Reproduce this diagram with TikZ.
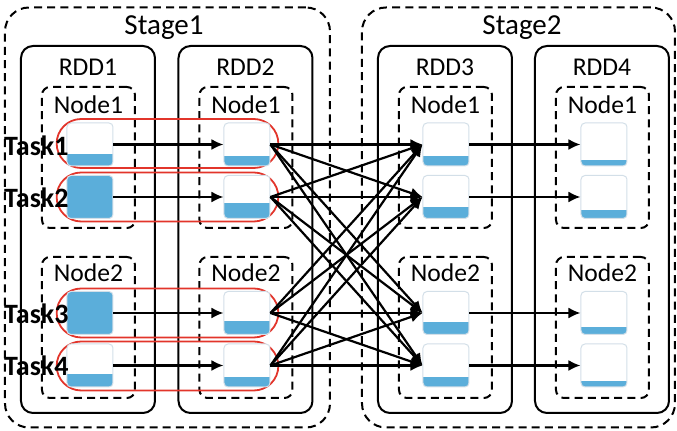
\documentclass[tikz,border=0pt]{standalone}
\usepackage{fontspec}
\setmainfont{Carlito}
\usetikzlibrary{arrows.meta, shapes.misc}
\definecolor{partblue}{HTML}{5BAEDA}
\definecolor{partedge}{HTML}{D3DFE8}
\definecolor{taskred}{HTML}{E2352B}
\tikzset{ stage/.style = { draw
                         , line width     = 1pt
                         , rounded corners = 12pt
                         , dash pattern   = on 4pt off 2.6pt
                         , minimum width  = 160pt
                         , minimum height = 210pt
                         },
          rdd/.style   = { draw
                         , line width     = 1pt
                         , rounded corners = 6pt
                         , minimum width  = 67pt
                         , minimum height = 183.5pt
                         },
          host/.style  = { draw
                         , line width     = 1pt
                         , rounded corners = 4pt
                         , dash pattern   = on 4pt off 2.6pt
                         , minimum width  = 46.5pt
                         , minimum height = 70.5pt
                         },
          part/.style  = { draw = partedge
                         , fill = white
                         , line width     = 0.5pt
                         , rounded corners = 2pt
                         , minimum width  = 23pt
                         , minimum height = 21.5pt
                         , inner sep      = 0pt
                         , path picture   = { \fill[partblue, sharp corners]
                             ([yshift=-2pt]path picture bounding box.south west) rectangle
                             ([yshift=#1]path picture bounding box.south east); }
                         },
          pill/.style  = { draw = taskred
                         , rounded rectangle
                         , line width     = 0.9pt
                         , minimum width  = 117.5pt
                         , minimum height = 24.5pt
                         },
          flow/.style  = { line width = 1.1pt
                         , -{Latex[length=6pt, width=5.5pt]}
                         },
          title/.style = { font = \fontsize{14.5}{16}\selectfont },
          lbl/.style   = { font = \fontsize{12.8}{14}\selectfont },
          task/.style  = { font = \fontsize{14}{16}\selectfont\bfseries
                         , inner sep = 0pt
                         }
        }
\begin{document}
\begin{tikzpicture}[x=0.5pt, y=-0.5pt]
    \useasboundingbox (0,0) rectangle (677,431);

    % stages
    \node[stage, minimum width=162.5pt] (s1) at (167.5,217.5) {};
    \node[stage, minimum width=156.5pt] (s2) at (518.5,217.5) {};
    \node[title] (s1l) at (164,28) {Stage1};
    \node[title] (s2l) at (522,28) {Stage2};

    % RDDs and the two hosts inside each
    \foreach \r/\x in {1/88, 2/245.5, 3/445, 4/602} {
        \node[rdd] (r\r) at (\x,229.5) {};
        \node[lbl] (r\r l) at (\x,67) {RDD\r};
        \node[host] (h\r a) at (\x+0.5,157.5) {};
        \node[host] (h\r b) at (\x+0.5,327.5) {};
        \node[lbl] (h\r al) at (\x+0.5,105) {Node1};
        \node[lbl] (h\r bl) at (\x+0.5,273) {Node2};
    }

    % one task per row of partitions
    \foreach \t/\y in {1/143.5, 2/197, 3/313, 4/366}
        \node[pill] (k\t) at (167.5,\y) {};

    % partitions: name/x/y/filled height
    \foreach \n/\x/\y/\h in { 11/90/144.5/6,   12/90/197/30,    13/90/313/30,    14/90/365.5/6.5,
                              21/247/144.5/5,  22/247/197/7.5,  23/247/313/6.5,  24/247/365.5/5,
                              31/446/144.5/5,  32/446/197/5.5,  33/446/313/6,    34/446/365.5/5,
                              41/604/144.5/3,  42/604/197/4,    43/604/313/3.5,  44/604/365.5/3 }
        \node[part=\h pt] (p\n) at (\x,\y) {};

    \foreach \t/\y in {1/146, 2/198, 3/314, 4/366}
        \node[task, anchor=east] (t\t) at (69,\y) {Task\t};

    % narrow dependencies
    \foreach \t in {1,...,4} {
        \draw[flow] (p1\t.east) -- (p2\t.west);
        \draw[flow] (p3\t.east) -- (p4\t.west);
    }
    % shuffle
    \foreach \s in {1,...,4}
        \foreach \t in {1,...,4}
            \draw[flow] (p2\s.east) -- (p3\t.west);
\end{tikzpicture}
\end{document}
